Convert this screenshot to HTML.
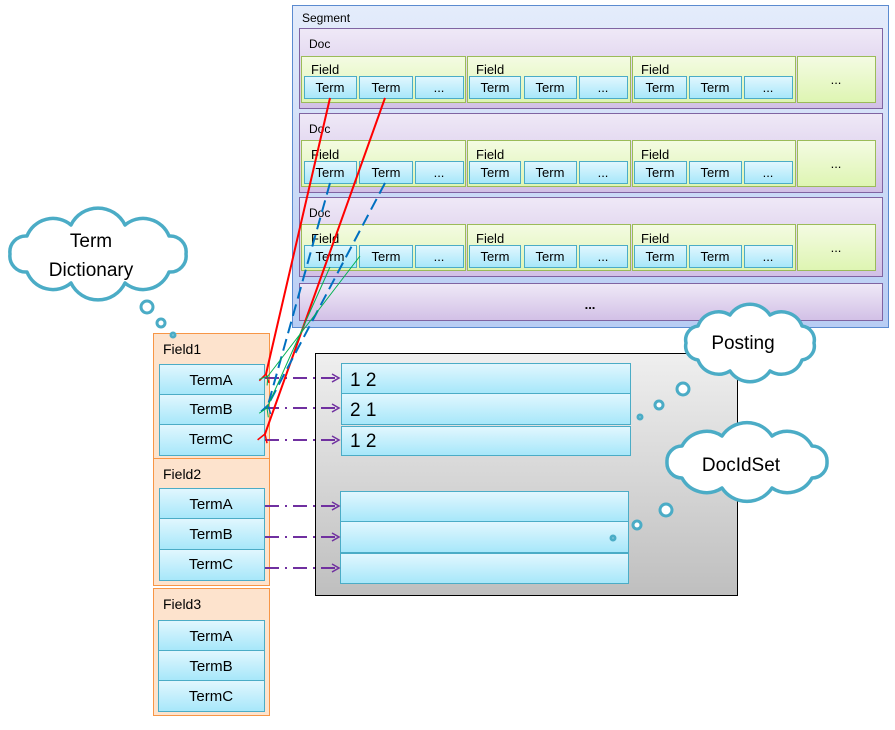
<!DOCTYPE html>
<html><head><meta charset="utf-8"><style>
body{margin:0;background:#fff;}
svg text{font-family:"Liberation Sans",sans-serif;}
</style></head><body>
<svg width="895" height="725" viewBox="0 0 895 725" xmlns="http://www.w3.org/2000/svg">
<defs>
<linearGradient id="seg" x1="0" y1="0" x2="0" y2="1"><stop offset="0" stop-color="#e4ecfb"/><stop offset="1" stop-color="#b8cdf4"/></linearGradient>
<linearGradient id="doc" x1="0" y1="0" x2="0" y2="1"><stop offset="0" stop-color="#efe9f7"/><stop offset="1" stop-color="#d2c0e6"/></linearGradient>
<linearGradient id="fld" x1="0" y1="0" x2="0" y2="1"><stop offset="0" stop-color="#f4fbe3"/><stop offset="1" stop-color="#def5b2"/></linearGradient>
<linearGradient id="trm" x1="0" y1="0" x2="0" y2="1"><stop offset="0" stop-color="#e2f7fe"/><stop offset="1" stop-color="#a6e7fa"/></linearGradient>
<linearGradient id="gry" x1="0" y1="0" x2="0" y2="1"><stop offset="0" stop-color="#efefef"/><stop offset="1" stop-color="#bfbfbf"/></linearGradient>
<marker id="pa" markerWidth="10" markerHeight="10" refX="8" refY="5" orient="auto" markerUnits="userSpaceOnUse"><path d="M1,1 L8,5 L1,9" fill="none" stroke="#7030a0" stroke-width="1.5"/></marker>
<marker id="ra" markerWidth="12" markerHeight="12" refX="2" refY="6" orient="auto" markerUnits="userSpaceOnUse"><path d="M10,1 L2,6 L10,11" fill="none" stroke="#f00" stroke-width="1.5"/></marker>
<marker id="ba" markerWidth="12" markerHeight="12" refX="2" refY="6" orient="auto" markerUnits="userSpaceOnUse"><path d="M10,1 L2,6 L10,11" fill="none" stroke="#0070c0" stroke-width="1.5"/></marker>
<marker id="ga" markerWidth="12" markerHeight="12" refX="2" refY="6" orient="auto" markerUnits="userSpaceOnUse"><path d="M10,1 L2,6 L10,11" fill="none" stroke="#00b050" stroke-width="1"/></marker>
</defs>

<!-- Segment -->
<rect x="292.5" y="5.5" width="596" height="322" fill="url(#seg)" stroke="#5b8bd0"/>
<text x="302" y="22" font-size="12">Segment</text>
<g stroke="#8064a2" fill="url(#doc)">
<rect x="299.5" y="28.5" width="583" height="80"/>
<rect x="299.5" y="113.5" width="583" height="79"/>
<rect x="299.5" y="197.5" width="583" height="79"/>
<rect x="299.5" y="283.5" width="583" height="37"/>
</g>
<text x="309" y="48" font-size="12">Doc</text>
<text x="309" y="133" font-size="12">Doc</text>
<text x="309" y="217" font-size="12">Doc</text>
<text x="590" y="309" font-size="13" text-anchor="middle" font-weight="bold">...</text>

<g stroke="#9bbb59" fill="url(#fld)">
<rect x="301.5" y="56.5" width="164" height="46"/><rect x="467.5" y="56.5" width="163" height="46"/><rect x="632.5" y="56.5" width="163" height="46"/><rect x="797.5" y="56.5" width="78" height="46"/>
<rect x="301.5" y="140.5" width="164" height="46"/><rect x="467.5" y="140.5" width="163" height="46"/><rect x="632.5" y="140.5" width="163" height="46"/><rect x="797.5" y="140.5" width="78" height="46"/>
<rect x="301.5" y="224.5" width="164" height="46"/><rect x="467.5" y="224.5" width="163" height="46"/><rect x="632.5" y="224.5" width="163" height="46"/><rect x="797.5" y="224.5" width="78" height="46"/>
</g>
<g font-size="13">
<text x="311" y="74">Field</text><text x="476" y="74">Field</text><text x="641" y="74">Field</text>
<text x="311" y="159">Field</text><text x="476" y="159">Field</text><text x="641" y="159">Field</text>
<text x="311" y="243">Field</text><text x="476" y="243">Field</text><text x="641" y="243">Field</text>
<text x="836" y="84" text-anchor="middle">...</text><text x="836" y="168" text-anchor="middle">...</text><text x="836" y="252" text-anchor="middle">...</text>
</g>
<g stroke="#4bacc6" fill="url(#trm)">
<rect x="304.5" y="76.5" width="52" height="22"/><rect x="359.5" y="76.5" width="53" height="22"/><rect x="415.5" y="76.5" width="48" height="22"/>
<rect x="469.5" y="76.5" width="51" height="22"/><rect x="524.5" y="76.5" width="52" height="22"/><rect x="579.5" y="76.5" width="48" height="22"/>
<rect x="634.5" y="76.5" width="52" height="22"/><rect x="689.5" y="76.5" width="52" height="22"/><rect x="744.5" y="76.5" width="48" height="22"/>
<rect x="304.5" y="161.5" width="52" height="22"/><rect x="359.5" y="161.5" width="53" height="22"/><rect x="415.5" y="161.5" width="48" height="22"/>
<rect x="469.5" y="161.5" width="51" height="22"/><rect x="524.5" y="161.5" width="52" height="22"/><rect x="579.5" y="161.5" width="48" height="22"/>
<rect x="634.5" y="161.5" width="52" height="22"/><rect x="689.5" y="161.5" width="52" height="22"/><rect x="744.5" y="161.5" width="48" height="22"/>
<rect x="304.5" y="245.5" width="52" height="22"/><rect x="359.5" y="245.5" width="53" height="22"/><rect x="415.5" y="245.5" width="48" height="22"/>
<rect x="469.5" y="245.5" width="51" height="22"/><rect x="524.5" y="245.5" width="52" height="22"/><rect x="579.5" y="245.5" width="48" height="22"/>
<rect x="634.5" y="245.5" width="52" height="22"/><rect x="689.5" y="245.5" width="52" height="22"/><rect x="744.5" y="245.5" width="48" height="22"/>
</g>
<g font-size="13" text-anchor="middle">
<text x="330" y="92">Term</text><text x="386" y="92">Term</text><text x="439" y="92">...</text>
<text x="495" y="92">Term</text><text x="550" y="92">Term</text><text x="603" y="92">...</text>
<text x="660" y="92">Term</text><text x="715" y="92">Term</text><text x="768" y="92">...</text>
<text x="330" y="177">Term</text><text x="386" y="177">Term</text><text x="439" y="177">...</text>
<text x="495" y="177">Term</text><text x="550" y="177">Term</text><text x="603" y="177">...</text>
<text x="660" y="177">Term</text><text x="715" y="177">Term</text><text x="768" y="177">...</text>
<text x="330" y="261">Term</text><text x="386" y="261">Term</text><text x="439" y="261">...</text>
<text x="495" y="261">Term</text><text x="550" y="261">Term</text><text x="603" y="261">...</text>
<text x="660" y="261">Term</text><text x="715" y="261">Term</text><text x="768" y="261">...</text>
</g>

<!-- gray box -->
<rect x="315.5" y="353.5" width="422" height="242" fill="url(#gry)" stroke="#000"/>
<g stroke="#4bacc6" fill="url(#trm)">
<rect x="341.5" y="363.5" width="289" height="30"/><rect x="341.5" y="393.5" width="289" height="31"/><rect x="341.5" y="426.5" width="289" height="29"/>
<rect x="340.5" y="491.5" width="288" height="30"/><rect x="340.5" y="521.5" width="288" height="31"/><rect x="340.5" y="553.5" width="288" height="30"/>
</g>
<g font-size="19"><text x="350" y="386">1 2</text><text x="350" y="416">2 1</text><text x="350" y="447">1 2</text></g>

<!-- Fields left -->
<g stroke="#f79646" fill="#fde3cd">
<rect x="153.5" y="333.5" width="116" height="125"/>
<rect x="153.5" y="458.5" width="116" height="127"/>
<rect x="153.5" y="588.5" width="116" height="127"/>
</g>
<g font-size="14"><text x="163" y="354">Field1</text><text x="163" y="479">Field2</text><text x="163" y="609">Field3</text></g>
<g stroke="#4bacc6" fill="url(#trm)">
<rect x="159.5" y="364.5" width="105" height="30"/><rect x="159.5" y="394.5" width="105" height="30"/><rect x="159.5" y="424.5" width="105" height="31"/>
<rect x="159.5" y="488.5" width="105" height="30"/><rect x="159.5" y="518.5" width="105" height="31"/><rect x="159.5" y="549.5" width="105" height="31"/>
<rect x="158.5" y="620.5" width="106" height="30"/><rect x="158.5" y="650.5" width="106" height="30"/><rect x="158.5" y="680.5" width="106" height="31"/>
</g>
<g font-size="15" text-anchor="middle">
<text x="211" y="385">TermA</text><text x="211" y="414">TermB</text><text x="211" y="444">TermC</text>
<text x="211" y="509">TermA</text><text x="211" y="539">TermB</text><text x="211" y="569">TermC</text>
<text x="211" y="641">TermA</text><text x="211" y="671">TermB</text><text x="211" y="701">TermC</text>
</g>

<!-- purple arrows -->
<g stroke="#7030a0" stroke-width="2" stroke-dasharray="14,6,2,6" fill="none" marker-end="url(#pa)">
<line x1="265" y1="378" x2="339" y2="378"/><line x1="265" y1="408" x2="339" y2="408"/><line x1="265" y1="440" x2="339" y2="440"/>
<line x1="265" y1="506" x2="339" y2="506"/><line x1="265" y1="537" x2="339" y2="537"/><line x1="265" y1="568" x2="339" y2="568"/>
</g>

<!-- connectors -->
<g fill="none">
<line x1="330" y1="98" x2="266" y2="374" stroke="#f00" stroke-width="2" marker-end="url(#ra)"/>
<line x1="385" y1="98" x2="265" y2="434" stroke="#f00" stroke-width="2" marker-end="url(#ra)"/>
<line x1="330" y1="183" x2="268" y2="405" stroke="#0070c0" stroke-width="2" stroke-dasharray="12,6" marker-end="url(#ba)"/>
<line x1="385" y1="183" x2="268" y2="405" stroke="#0070c0" stroke-width="2" stroke-dasharray="12,6"/>
<line x1="330" y1="267" x2="267" y2="408" stroke="#00b050" stroke-width="1" marker-end="url(#ga)"/>
<line x1="360" y1="256" x2="268" y2="376" stroke="#00b050" stroke-width="1" marker-end="url(#ga)"/>
</g>

<!-- clouds -->
<g fill="#fff" stroke="#4bacc6" stroke-width="3.5" stroke-linejoin="round">
<path d="M186,254 A16,16 0 0 1 169,272 A28,28 0 0 1 125,283 A30,30 0 0 1 71,283 A28,28 0 0 1 27,272 A16,16 0 0 1 10,254 A16,16 0 0 1 27,236 A28,28 0 0 1 71,225 A30,30 0 0 1 125,225 A28,28 0 0 1 169,236 A16,16 0 0 1 186,254 Z"/>
<path d="M814,343 A14,14 0 0 1 802,360 A22,22 0 0 1 770,371 A24,24 0 0 1 730,371 A22,22 0 0 1 698,360 A14,14 0 0 1 686,343 A14,14 0 0 1 698,326 A22,22 0 0 1 730,315 A24,24 0 0 1 770,315 A22,22 0 0 1 802,326 A14,14 0 0 1 814,343 Z"/>
<path d="M827,462 A15,15 0 0 1 812,478 A28,28 0 0 1 772,488 A30,30 0 0 1 722,488 A28,28 0 0 1 682,478 A15,15 0 0 1 667,462 A15,15 0 0 1 682,446 A28,28 0 0 1 722,436 A30,30 0 0 1 772,436 A28,28 0 0 1 812,446 A15,15 0 0 1 827,462 Z"/>
</g>
<g fill="#fff" stroke="#4bacc6" stroke-width="3">
<circle cx="147" cy="307" r="6"/><circle cx="161" cy="323" r="4"/><circle cx="173" cy="335" r="2"/>
<circle cx="683" cy="389" r="6"/><circle cx="659" cy="405" r="4"/><circle cx="640" cy="417" r="2"/>
<circle cx="666" cy="510" r="6"/><circle cx="637" cy="525" r="4"/><circle cx="613" cy="538" r="2"/>
</g>
<g font-size="19" text-anchor="middle">
<text x="91" y="247">Term</text><text x="91" y="276">Dictionary</text>
<text x="743" y="349">Posting</text>
<text x="741" y="471">DocIdSet</text>
</g>
</svg>
</body></html>
